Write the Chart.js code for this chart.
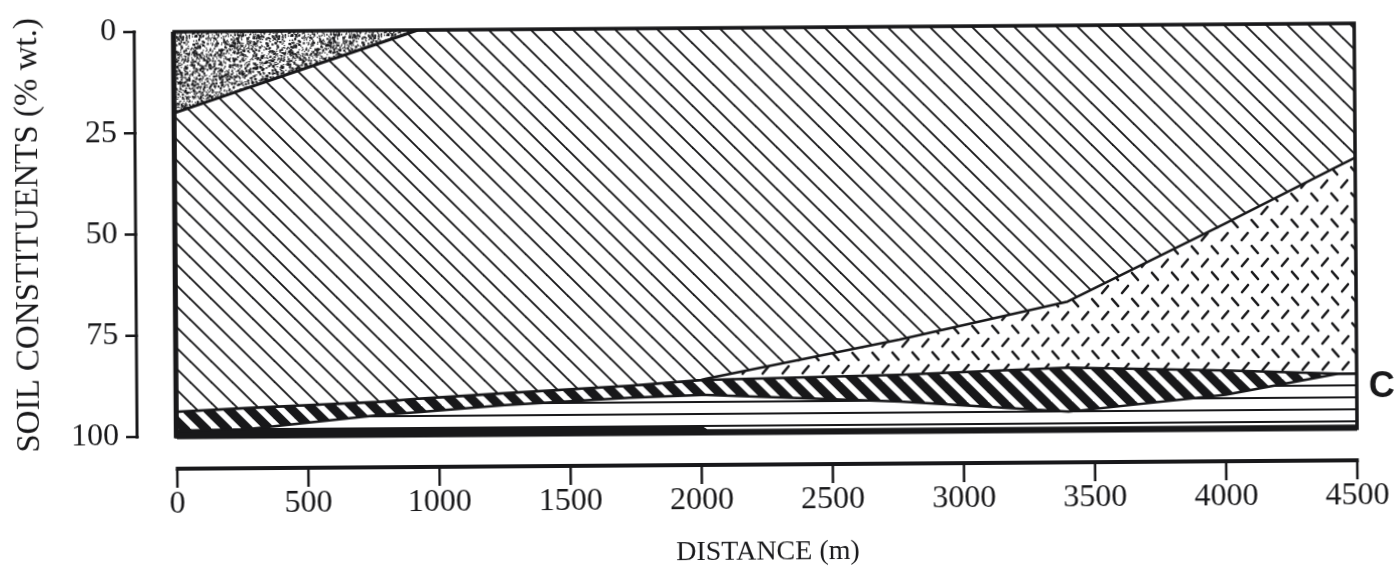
<!DOCTYPE html>
<html><head><meta charset="utf-8">
<script src="https://cdn.jsdelivr.net/npm/chart.js@4.4.0/dist/chart.umd.min.js"></script>
<style>
html,body{margin:0;padding:0;background:#fff;overflow:hidden;}
#wrap{width:1397px;height:569px;transform:rotate(-0.41deg);transform-origin:50% 50%;}
canvas{display:block;}
</style></head><body>
<div id="wrap"><canvas id="c" width="1397" height="569"></canvas></div>
<script>
// ---- data (% wt. thickness of each constituent layer, stacked from the top) ----
const distances   = [0, 265, 772, 930, 1250, 1727, 2000, 2020, 2758, 3400, 4000, 4430, 4500];
const stippled    = [20, 14.3, 3.4, 0, 0, 0, 0, 0, 0, 0, 0, 0, 0];
const diagonal    = [73.8, 78.7, 88.3, 91.0, 89.8, 88.2, 86.9, 86.6, 77.3, 68.2, 49.3, 35.4, 33.2];
const dashed      = [0, 0, 0, 0, 0, 0, 0, 0.3, 8.7, 16.3, 36.2, 51.1, 53.3];
const banded      = [4.7, 5.3, 3.3, 3.3, 3.0, 3.0, 3.7, 3.7, 6.6, 10.9, 6.0, 0, 0];
const lined       = [0, 0.2, 3.5, 4.2, 5.7, 7.3, 7.9, 8.7, 6.7, 3.9, 7.8, 12.8, 12.8];
const solid       = [1.5, 1.5, 1.5, 1.5, 1.5, 1.5, 1.5, 0.7, 0.7, 0.7, 0.7, 0.7, 0.7];
const xTicks = [0, 500, 1000, 1500, 2000, 2500, 3000, 3500, 4000, 4500];
const yTicks = [0, 25, 50, 75, 100];
const xTitle = 'DISTANCE (m)';
const yTitle = 'SOIL CONSTITUENTS (% wt.)';
const sideLabel = 'C';

const INK = '#18181a';
const SERIF = '"Liberation Serif", "DejaVu Serif", serif';

function tile(w, h, bg, draw){
  const c = document.createElement('canvas'); c.width = w; c.height = h;
  const g = c.getContext('2d');
  g.fillStyle = bg; g.fillRect(0, 0, w, h);
  draw(g, w, h);
  return document.getElementById('c').getContext('2d').createPattern(c, 'repeat');
}
function diagLines(g, s, color, lw){
  g.strokeStyle = color; g.lineWidth = lw; g.lineCap = 'square';
  for (let k = -1; k <= 1; k++){ g.beginPath(); g.moveTo(k*s, 0); g.lineTo(k*s + s, s); g.stroke(); }
}
const patHatch = tile(21, 21, '#ffffff', (g, w) => diagLines(g, w, INK, 1.9));
const patBand  = tile(21, 21, INK, (g, w) => diagLines(g, w, '#ffffff', 6));
const patDash  = tile(20, 26, '#ffffff', g => {
  g.strokeStyle = INK; g.lineWidth = 2.6; g.lineCap = 'round';
  g.beginPath(); g.moveTo(2, 10); g.lineTo(8, 3); g.stroke();
  g.beginPath(); g.moveTo(12, 16); g.lineTo(18, 23); g.stroke();
});
const patLines = tile(12, 12, '#ffffff', g => { g.fillStyle = INK; g.fillRect(0, 5, 12, 2); });
const patStip  = tile(96, 96, '#ffffff', g => {
  let s = 12345; const rnd = () => (s = (s * 1103515245 + 12345) % 2147483648) / 2147483648;
  g.fillStyle = 'rgba(20,20,22,0.85)';
  for (let i = 0; i < 2300; i++){ const r = rnd() < 0.7 ? 1.3 : 2.2; g.fillRect(rnd()*96, rnd()*96, r, r); }
});

function layer(label, values, bg, border, bw, fill){
  return { label, data: distances.map((d, i) => ({x: d, y: values[i]})),
           backgroundColor: bg, borderColor: border, borderWidth: bw,
           fill, pointRadius: 0, tension: 0, borderJoinStyle: 'round' };
}

const sepAxes = {
  id: 'sepAxes',
  afterDraw(chart){
    const {ctx, chartArea: a, scales: {x, y}} = chart;
    const line = (x1, y1, x2, y2, w) => { ctx.lineWidth = w; ctx.beginPath(); ctx.moveTo(x1, y1); ctx.lineTo(x2, y2); ctx.stroke(); };
    ctx.save();
    ctx.strokeStyle = INK; ctx.fillStyle = INK; ctx.lineCap = 'butt';
    // plot frame
    ctx.lineWidth = 3.5; ctx.strokeRect(a.left, a.top, a.right - a.left, a.bottom - a.top);
    line(a.left - 1, a.top, a.left - 1, a.bottom + 1.5, 4.5);
    line(a.left, a.bottom + 0.5, a.right, a.bottom + 0.5, 4);
    // detached y axis
    const ax = a.left - 40;
    const y0 = y.getPixelForValue(yTicks[0]), y1 = y.getPixelForValue(yTicks[yTicks.length - 1]);
    line(ax, y0 - 1.5, ax, y1 + 1.5, 3);
    yTicks.forEach(v => { const p = y.getPixelForValue(v); line(ax - 11, p, ax + 1.5, p, 2.5); });
    // detached x axis
    const ay = a.bottom + 32;
    const x0 = x.getPixelForValue(xTicks[0]), x1 = x.getPixelForValue(xTicks[xTicks.length - 1]);
    line(x0 - 1.5, ay, x1 + 1.5, ay, 4);
    xTicks.forEach(v => { const p = x.getPixelForValue(v); line(p, ay, p, ay + 19, 2.5); });
    // side label
    ctx.font = 'bold 36px "Liberation Sans", Arial, sans-serif';
    ctx.textBaseline = 'middle'; ctx.textAlign = 'left';
    ctx.fillText(sideLabel, a.right + 12, y.getPixelForValue(90));
    ctx.restore();
  }
};

const noPad = s => { s.paddingTop = 0; s.paddingBottom = 0; s.paddingLeft = 0; s.paddingRight = 0; };

new Chart(document.getElementById('c'), {
  type: 'line',
  data: { datasets: [
    layer('Stippled', stippled, patStip, INK, 3, 'origin'),
    layer('Diagonal', diagonal, patHatch, INK, 2.5, '-1'),
    layer('Dashed', dashed, patDash, INK, 2.5, '-1'),
    layer('Banded', banded, patBand, INK, 2.5, '-1'),
    layer('Lined', lined, patLines, INK, 2, '-1'),
    layer('Solid', solid, INK, INK, 1, '-1'),
  ]},
  options: {
    responsive: false, devicePixelRatio: 1, animation: false,
    layout: { padding: { top: 28, right: 41, left: 0, bottom: 0 } },
    plugins: { legend: { display: false }, tooltip: { enabled: false } },
    elements: { line: { borderCapStyle: 'butt' } },
    scales: {
      x: {
        type: 'linear', min: 0, max: 4500,
        afterFit: s => { s.height = 136; noPad(s); },
        afterBuildTicks: s => { s.ticks = xTicks.map(v => ({value: v})); },
        grid: { display: false, drawTicks: false },
        border: { display: false },
        ticks: { color: INK, padding: 48, font: { family: SERIF, size: 32 }, maxRotation: 0, autoSkip: false,
                 callback: v => String(v) },
        title: { display: true, text: xTitle, color: INK, font: { family: SERIF, size: 28 }, padding: { top: 0, bottom: 0 } }
      },
      y: {
        type: 'linear', min: 0, max: 100, reverse: true, stacked: true,
        afterFit: s => { s.width = 176; noPad(s); },
        afterBuildTicks: s => { s.ticks = yTicks.map(v => ({value: v})); },
        grid: { display: false, drawTicks: false },
        border: { display: false },
        ticks: { color: INK, padding: 58, font: { family: SERIF, size: 32 }, callback: v => String(v) },
        title: { display: true, text: yTitle, color: INK, font: { family: SERIF, size: 33 }, padding: { top: 10, bottom: 0 } }
      }
    }
  },
  plugins: [sepAxes]
});
</script>
</body></html>
